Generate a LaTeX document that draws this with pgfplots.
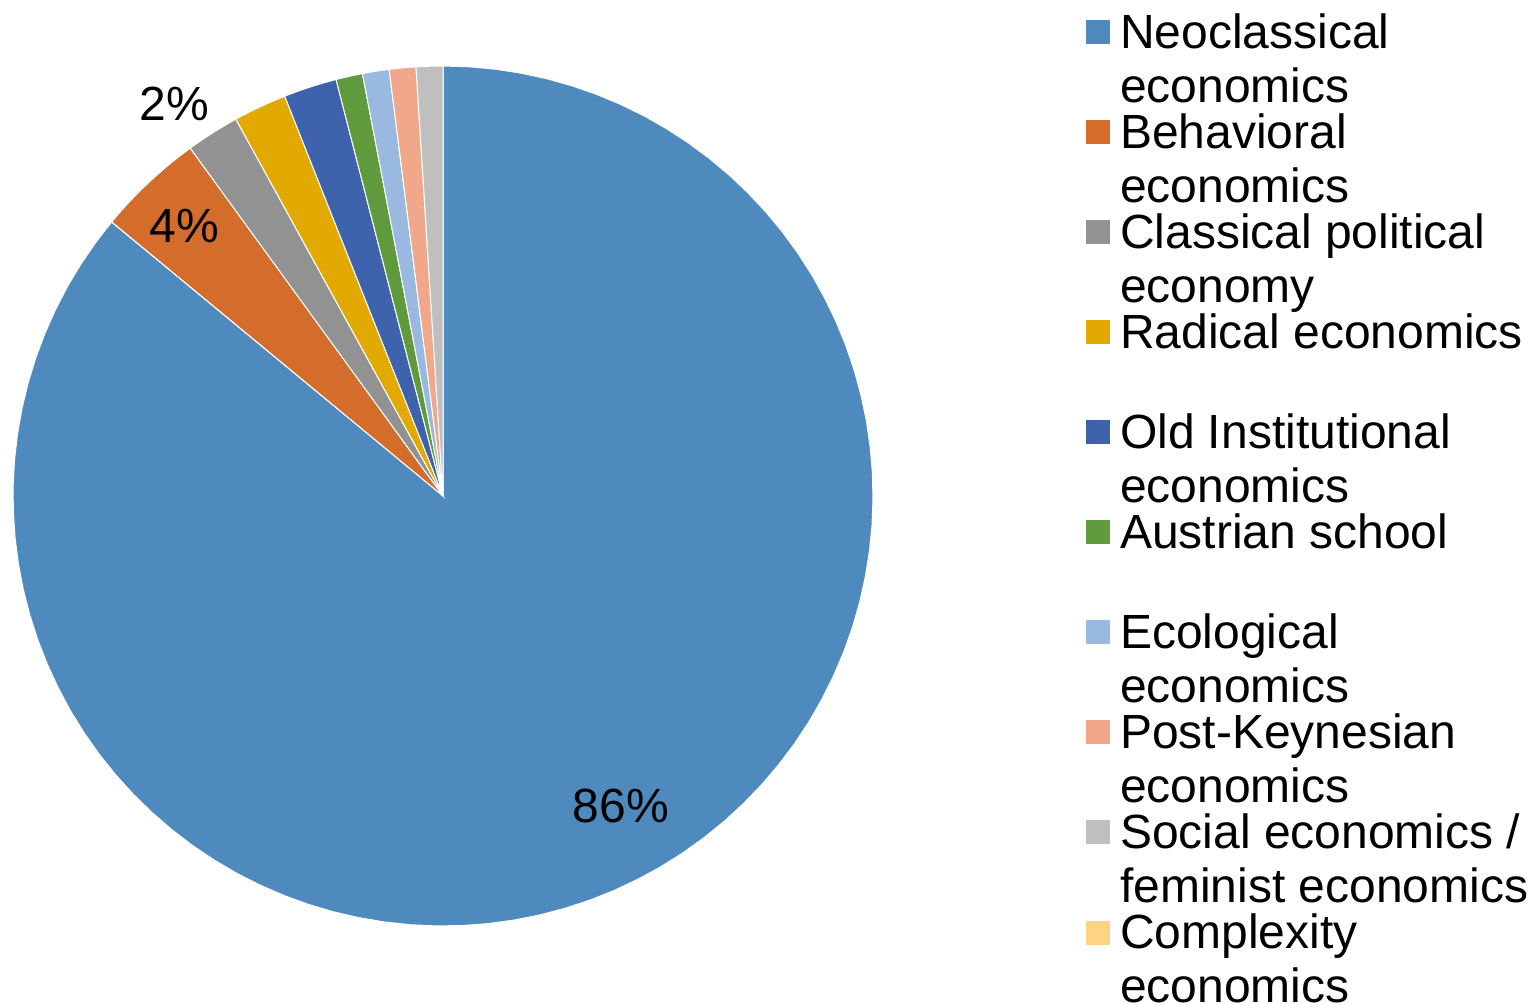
\documentclass[border=0pt]{standalone}
\usepackage{fontspec}
\setmainfont{Liberation Sans}
\usepackage{pgfplots}
\pgfplotsset{compat=1.18}
\definecolor{cneo}{RGB}{79,138,190}
\definecolor{cbeh}{RGB}{212,109,43}
\definecolor{ccla}{RGB}{146,146,146}
\definecolor{crad}{RGB}{226,170,0}
\definecolor{cold}{RGB}{62,99,172}
\definecolor{caus}{RGB}{95,154,60}
\definecolor{ceco}{RGB}{154,185,224}
\definecolor{cpk}{RGB}{240,167,138}
\definecolor{csoc}{RGB}{191,191,191}
\definecolor{ccom}{RGB}{254,211,132}
% slice: #1 cumulative start (%), #2 share (%), #3 colour
\newcommand{\slice}[3]{%
  \addplot[fill=#3, draw=white, line width=0.5bp, domain=0:1, samples=90, variable=\t]
    ({443+430*cos(90-3.6*(#1+#2*\t))},{508+430*sin(90-3.6*(#1+#2*\t))}) -- (443,508) -- cycle;
}
\newcommand{\lent}[2]{\parbox[t][50bp][t]{240bp}{\rule{0pt}{18.2bp}#1\par #2}}
\begin{document}
\begin{tikzpicture}
\begin{axis}[
  at={(0,0)}, anchor=south west,
  scale only axis, width=766bp, height=502bp,
  xmin=0, xmax=1532, ymin=0, ymax=1004,
  hide axis, clip=false,
  legend image code/.code={\fill[#1] (0bp,2bp) rectangle (12.5bp,14.5bp); \path (17bp,0bp);},
  legend style={draw=none, fill=none, inner sep=0pt, outer sep=0pt,
    at={(1085/1532,0.98745)}, anchor=north west,
    row sep=0pt, column sep=0pt,
    cells={anchor=base west},
    nodes={inner sep=0pt, outer sep=0pt, text depth=},
    font=\fontsize{24bp}{27bp}\selectfont},
]
\slice{0}{86}{cneo}
\addlegendentry{\lent{Neoclassical}{economics}}
\slice{86}{4}{cbeh}
\addlegendentry{\lent{Behavioral}{economics}}
\slice{90}{2}{ccla}
\addlegendentry{\lent{Classical political}{economy}}
\slice{92}{2}{crad}
\addlegendentry{\lent{Radical economics}{}}
\slice{94}{2}{cold}
\addlegendentry{\lent{Old Institutional}{economics}}
\slice{96}{1}{caus}
\addlegendentry{\lent{Austrian school}{}}
\slice{97}{1}{ceco}
\addlegendentry{\lent{Ecological}{economics}}
\slice{98}{1}{cpk}
\addlegendentry{\lent{Post-Keynesian}{economics}}
\slice{99}{1}{csoc}
\addlegendentry{\lent{Social economics /}{feminist economics}}
\addlegendimage{fill=ccom, draw=white}
\addlegendentry{\lent{Complexity}{economics}}
\node[font=\fontsize{24bp}{26bp}\selectfont] at (621,198) {86\%};
\node[font=\fontsize{24bp}{26bp}\selectfont] at (184,778) {4\%};
\node[font=\fontsize{24bp}{26bp}\selectfont] at (174,900) {2\%};
\end{axis}
\pgfresetboundingbox
\useasboundingbox (0,0) rectangle (766bp,502bp);
\end{tikzpicture}
\end{document}
